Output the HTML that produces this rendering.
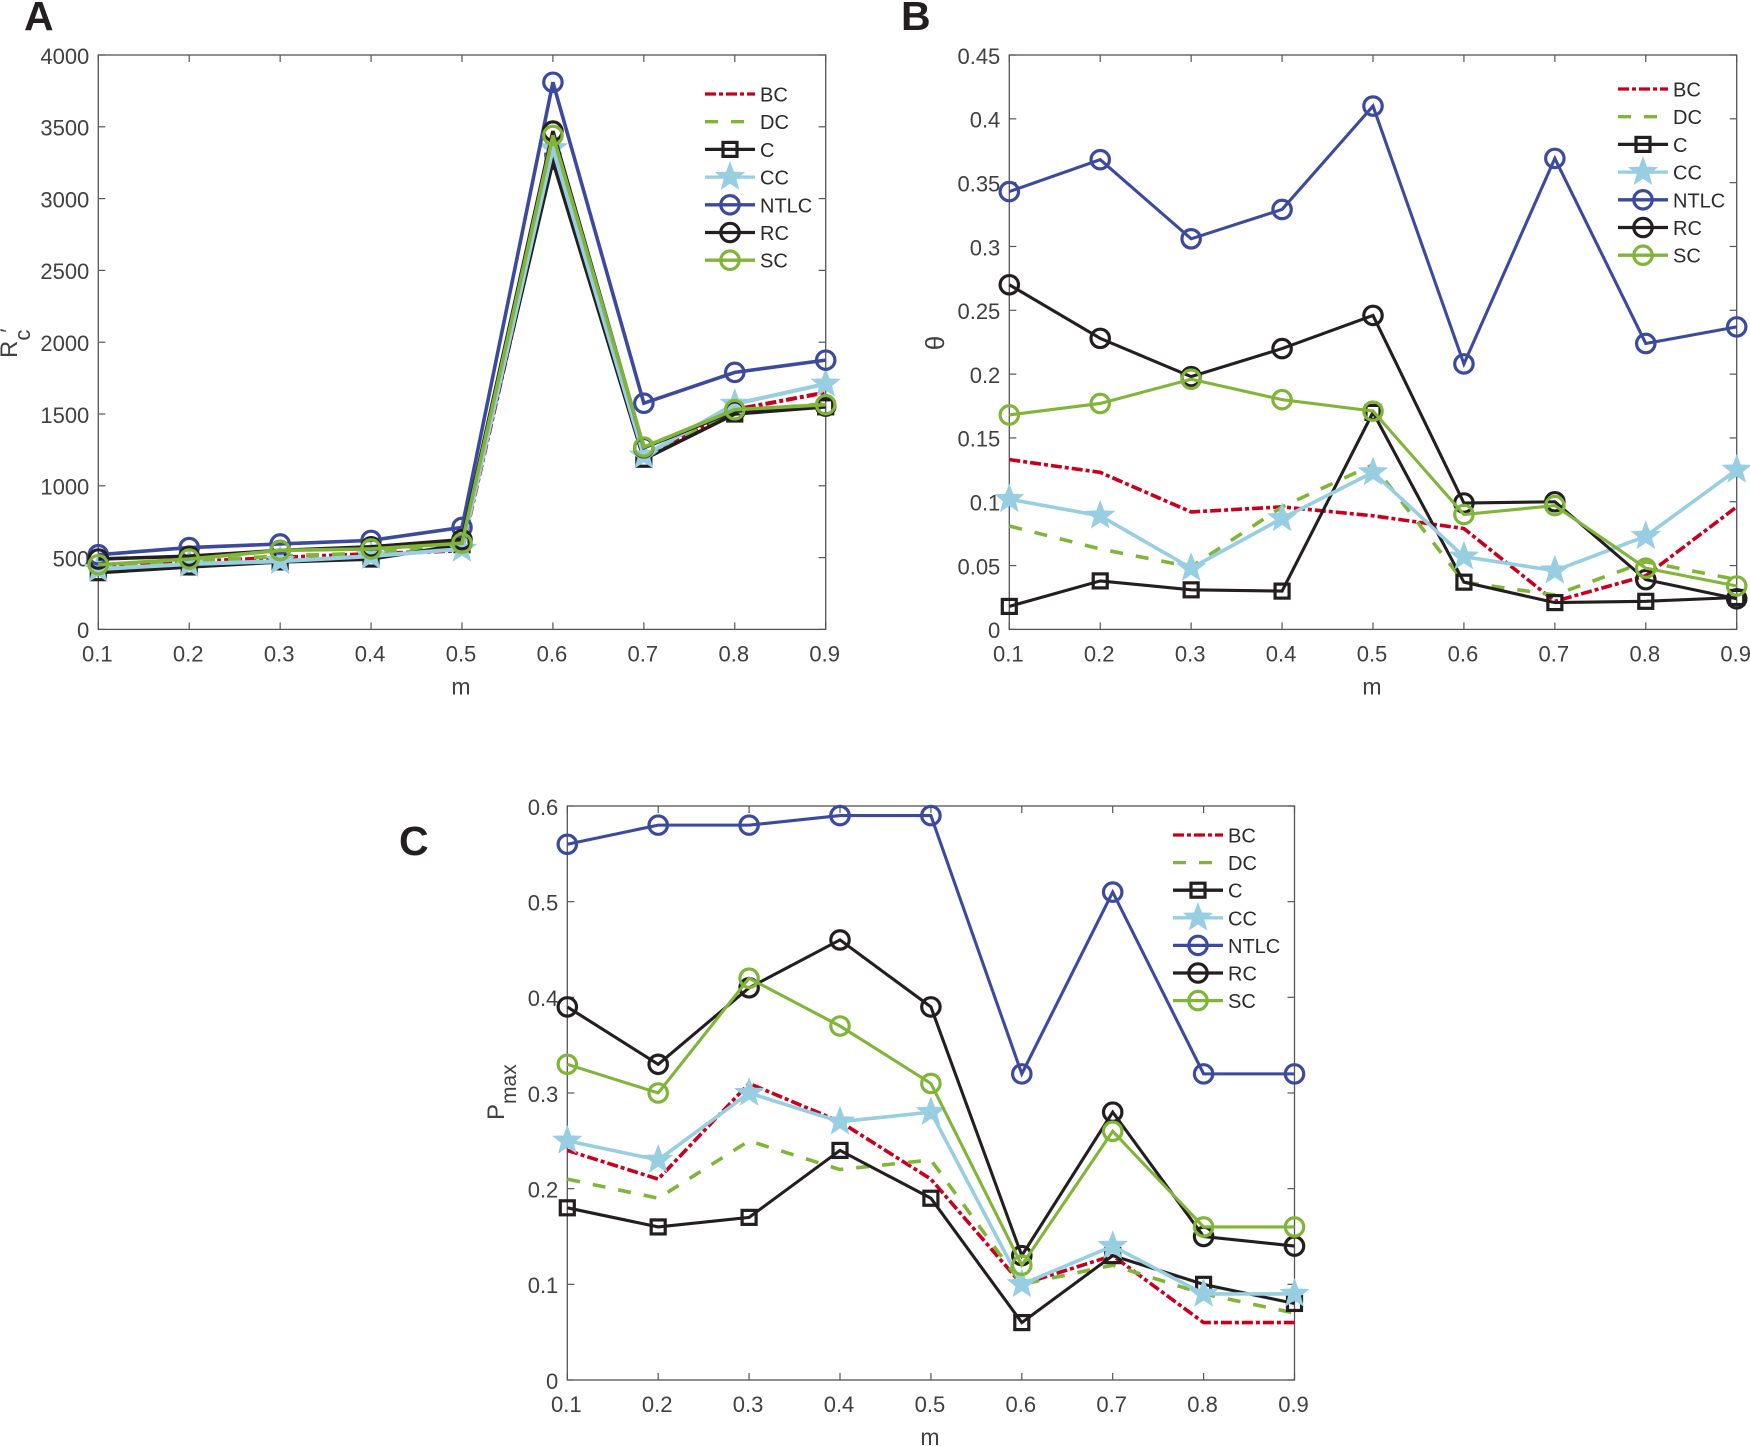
<!DOCTYPE html>
<html lang="en">
<head>
<meta charset="utf-8">
<title>Panels A, B and C: metrics versus m</title>
<style>
html,body{margin:0;padding:0;background:#fff;}
body{width:1750px;height:1446px;overflow:hidden;}
svg{display:block;font-family:"Liberation Sans",Arial,sans-serif;}
</style>
</head>
<body>
<svg id="figure" xmlns="http://www.w3.org/2000/svg" width="1750" height="1446" viewBox="0 0 1750 1446">
  <rect x="0" y="0" width="1750" height="1446" fill="#ffffff"/>
  <text x="24" y="30" font-size="41" font-weight="700" fill="#231f20">A</text>
  <text x="901" y="30" font-size="41" font-weight="700" fill="#231f20">B</text>
  <text x="399" y="855" font-size="41" font-weight="700" fill="#231f20">C</text>
</svg>
<script>
// Shared categories
const mValues = [0.1, 0.2, 0.3, 0.4, 0.5, 0.6, 0.7, 0.8, 0.9];
const mLabels = ['0.1', '0.2', '0.3', '0.4', '0.5', '0.6', '0.7', '0.8', '0.9'];
const seriesNames = ['BC', 'DC', 'C', 'CC', 'NTLC', 'RC', 'SC'];

// Panel A: Rc'
const aTicks = [0, 500, 1000, 1500, 2000, 2500, 3000, 3500, 4000];
const aTickLabels = ['0', '500', '1000', '1500', '2000', '2500', '3000', '3500', '4000'];
const aBC = [440, 470, 500, 525, 550, 3300, 1200, 1530, 1650];
const aDC = [435, 475, 510, 530, 590, 3380, 1220, 1520, 1570];
const aC = [395, 435, 470, 490, 590, 3260, 1185, 1500, 1550];
const aCC = [420, 455, 475, 510, 560, 3350, 1210, 1570, 1710];
const aNTLC = [520, 570, 595, 620, 710, 3810, 1575, 1790, 1875];
const aRC = [490, 510, 550, 575, 625, 3470, 1265, 1520, 1555];
const aSC = [450, 490, 550, 560, 600, 3440, 1270, 1530, 1565];

// Panel B: theta
const bTicks = [0, 0.05, 0.1, 0.15, 0.2, 0.25, 0.3, 0.35, 0.4, 0.45];
const bTickLabels = ['0', '0.05', '0.1', '0.15', '0.2', '0.25', '0.3', '0.35', '0.4', '0.45'];
const bBC = [0.133, 0.123, 0.092, 0.096, 0.089, 0.079, 0.022, 0.042, 0.096];
const bDC = [0.081, 0.063, 0.049, 0.096, 0.129, 0.037, 0.027, 0.053, 0.039];
const bC = [0.018, 0.038, 0.031, 0.030, 0.170, 0.037, 0.021, 0.022, 0.025];
const bCC = [0.102, 0.089, 0.048, 0.087, 0.123, 0.057, 0.046, 0.073, 0.125];
const bNTLC = [0.343, 0.368, 0.306, 0.329, 0.410, 0.208, 0.369, 0.224, 0.237];
const bRC = [0.270, 0.228, 0.198, 0.220, 0.246, 0.099, 0.100, 0.039, 0.024];
const bSC = [0.168, 0.177, 0.196, 0.180, 0.171, 0.090, 0.097, 0.048, 0.034];

// Panel C: Pmax
const cTicks = [0, 0.1, 0.2, 0.3, 0.4, 0.5, 0.6];
const cTickLabels = ['0', '0.1', '0.2', '0.3', '0.4', '0.5', '0.6'];
const cBC = [0.24, 0.21, 0.31, 0.27, 0.21, 0.10, 0.13, 0.06, 0.06];
const cDC = [0.21, 0.19, 0.25, 0.22, 0.23, 0.10, 0.12, 0.09, 0.07];
const cC = [0.18, 0.16, 0.17, 0.24, 0.19, 0.06, 0.13, 0.10, 0.08];
const cCC = [0.25, 0.23, 0.30, 0.27, 0.28, 0.10, 0.14, 0.09, 0.09];
const cNTLC = [0.56, 0.58, 0.58, 0.59, 0.59, 0.32, 0.51, 0.32, 0.32];
const cRC = [0.39, 0.33, 0.41, 0.46, 0.39, 0.13, 0.28, 0.15, 0.14];
const cSC = [0.33, 0.30, 0.42, 0.37, 0.31, 0.12, 0.26, 0.16, 0.16];

const NS = 'http://www.w3.org/2000/svg';
const root = document.getElementById('figure');

const seriesStyles = [
  { color: '#c8001e', dash: '11 3 4 3', marker: 'none' },
  { color: '#80b53a', dash: '13 13', marker: 'none' },
  { color: '#231f20', dash: '', marker: 'square' },
  { color: '#98cee1', dash: '', marker: 'star' },
  { color: '#3c4a9e', dash: '', marker: 'circle' },
  { color: '#231f20', dash: '', marker: 'circle' },
  { color: '#80b53a', dash: '', marker: 'circle' }
];

function make(tag, attrs, parent) {
  const el = document.createElementNS(NS, tag);
  for (const k in attrs) el.setAttribute(k, attrs[k]);
  parent.appendChild(el);
  return el;
}

function starPoints(cx, cy, outer) {
  const inner = outer * 0.42;
  const pts = [];
  for (let i = 0; i < 10; i++) {
    const r = i % 2 === 0 ? outer : inner;
    const ang = -Math.PI / 2 + i * Math.PI / 5;
    pts.push((cx + r * Math.cos(ang)).toFixed(2) + ',' + (cy + r * Math.sin(ang)).toFixed(2));
  }
  return pts.join(' ');
}

function drawMarker(parent, kind, cx, cy, color, strokeW) {
  if (kind === 'circle') {
    const m = make('circle', { cx: cx, cy: cy, r: 9.2, fill: 'none', stroke: color, 'stroke-width': strokeW }, parent);
    
    
  } else if (kind === 'square') {
    const m = make('rect', { x: cx - 7, y: cy - 7, width: 14, height: 14, fill: 'none', stroke: color, 'stroke-width': strokeW }, parent);
    
    
  } else if (kind === 'star') {
    const m = make('polygon', { points: starPoints(cx, cy, 14.5), fill: color, stroke: color, 'stroke-width': 1 }, parent);
    
    
  }
}

function renderPanel(p) {
  const group = make('g', {}, root);
  
  

  const xScale = v => p.left + (v - mValues[0]) / (mValues[mValues.length - 1] - mValues[0]) * (p.right - p.left);
  const yScale = v => p.bottom - (v - p.yTicks[0]) / (p.yTicks[p.yTicks.length - 1] - p.yTicks[0]) * (p.bottom - p.top);
  const axisColor = '#555555';
  const textColor = '#404040';

  // plot box
  const box = make('rect', { x: p.left, y: p.top, width: p.right - p.left, height: p.bottom - p.top, fill: 'none', stroke: axisColor, 'stroke-width': 1.3 }, group);
  
  

  // x ticks
  mValues.forEach((v, i) => {
    const x = xScale(v);
    const t1 = make('line', { x1: x, x2: x, y1: p.bottom, y2: p.bottom - 7, stroke: axisColor, 'stroke-width': 1.2 }, group);
    
    
    const t2 = make('line', { x1: x, x2: x, y1: p.top, y2: p.top + 7, stroke: axisColor, 'stroke-width': 1.2 }, group);
    
    
    const label = make('text', { x: x - 1, y: p.bottom + 32, 'text-anchor': 'middle', 'font-size': 22, fill: textColor }, group);
    label.textContent = mLabels[i];
    
    
  });

  // y ticks
  p.yTicks.forEach((v, i) => {
    const y = yScale(v);
    const t1 = make('line', { x1: p.left, x2: p.left + 7, y1: y, y2: y, stroke: axisColor, 'stroke-width': 1.2 }, group);
    
    
    const t2 = make('line', { x1: p.right, x2: p.right - 7, y1: y, y2: y, stroke: axisColor, 'stroke-width': 1.2 }, group);
    
    
    const label = make('text', { x: p.left - 9, y: y + 8.8, 'text-anchor': 'end', 'font-size': 22, fill: textColor }, group);
    label.textContent = p.yLabels[i];
    
    
  });

  // x axis title
  const xTitle = make('text', { x: (p.left + p.right) / 2 - 1, y: p.bottom + p.xTitleGap, 'text-anchor': 'middle', 'font-size': 23, fill: textColor }, group);
  xTitle.textContent = 'm';
  
  

  // y axis title (rotated, with optional subscript and prime)
  const yTitle = make('text', { transform: 'translate(' + p.yTitle.x + ',' + p.yTitle.y + ') rotate(-90)', 'text-anchor': p.yTitle.anchor, 'font-size': p.yTitle.size, fill: textColor }, group);
  
  
  const mainSpan = make('tspan', {}, yTitle);
  mainSpan.textContent = p.yTitle.main;
  if (p.yTitle.sub) {
    const subSpan = make('tspan', { dy: p.yTitle.subDy, 'font-size': p.yTitle.subSize }, yTitle);
    subSpan.textContent = p.yTitle.sub;
  }
  if (p.yTitle.sup) {
    const supSpan = make('tspan', { dx: -3, dy: -p.yTitle.subDy - 1, 'font-size': p.yTitle.subSize }, yTitle);
    supSpan.textContent = p.yTitle.sup;
  }

  // series
  p.series.forEach((values, s) => {
    const st = seriesStyles[s];
    const g = make('g', {}, group);
    
    
    const pts = values.map((v, i) => xScale(mValues[i]).toFixed(2) + ',' + yScale(v).toFixed(2)).join(' ');
    const line = make('polyline', { points: pts, fill: 'none', stroke: st.color, 'stroke-width': p.lineW + (st.marker === 'none' || st.marker === 'star' ? 0.5 : 0), 'stroke-linejoin': 'miter' }, g);
    if (st.dash) line.setAttribute('stroke-dasharray', st.dash);
    
    
    values.forEach((v, i) => {
      drawMarker(g, st.marker, xScale(mValues[i]), yScale(v), st.color, 3.2);
    });
  });

  // legend
  const legend = make('g', {}, group);
  
  
  seriesNames.forEach((name, s) => {
    const st = seriesStyles[s];
    const y = p.legend.y + s * p.legend.step;
    const entry = make('g', {}, legend);
    
    
    const sample = make('line', { x1: p.legend.x, x2: p.legend.x + 50, y1: y, y2: y, stroke: st.color, 'stroke-width': 3.3 }, entry);
    if (st.dash) sample.setAttribute('stroke-dasharray', st.dash);
    
    
    drawMarker(entry, st.marker, p.legend.x + 25, y, st.color, 3.2);
    const text = make('text', { x: p.legend.x + 55, y: y + 7.5, 'font-size': 20, fill: '#2b2b2b' }, entry);
    text.textContent = name;
    
    
  });
}

renderPanel({
  id: 'a', left: 98.3, right: 825.7, top: 55, bottom: 629.4, lineW: 3.6, xTitleGap: 65,
  yTicks: aTicks, yLabels: aTickLabels,
  series: [aBC, aDC, aC, aCC, aNTLC, aRC, aSC],
  yTitle: { x: 17, y: 358, anchor: 'start', size: 24, subSize: 22, main: 'R', sub: 'c', sup: '\u2032', subDy: 13 },
  legend: { x: 705, y: 94, step: 27.7 }
});

renderPanel({
  id: 'b', left: 1009.3, right: 1736.7, top: 55, bottom: 629.4, lineW: 3.1, xTitleGap: 65,
  yTicks: bTicks, yLabels: bTickLabels,
  series: [bBC, bDC, bC, bCC, bNTLC, bRC, bSC],
  yTitle: { x: 944, y: 343, anchor: 'middle', size: 26, main: '\u03b8' },
  legend: { x: 1618, y: 89, step: 27.7 }
});

renderPanel({
  id: 'c', left: 567.3, right: 1294.5, top: 806, bottom: 1380, lineW: 3.1, xTitleGap: 65,
  yTicks: cTicks, yLabels: cTickLabels,
  series: [cBC, cDC, cC, cCC, cNTLC, cRC, cSC],
  yTitle: { x: 504, y: 1120, anchor: 'start', size: 24, subSize: 21, main: 'P', sub: 'max', subDy: 12 },
  legend: { x: 1173, y: 835, step: 27.6 }
});
</script>
</body>
</html>
